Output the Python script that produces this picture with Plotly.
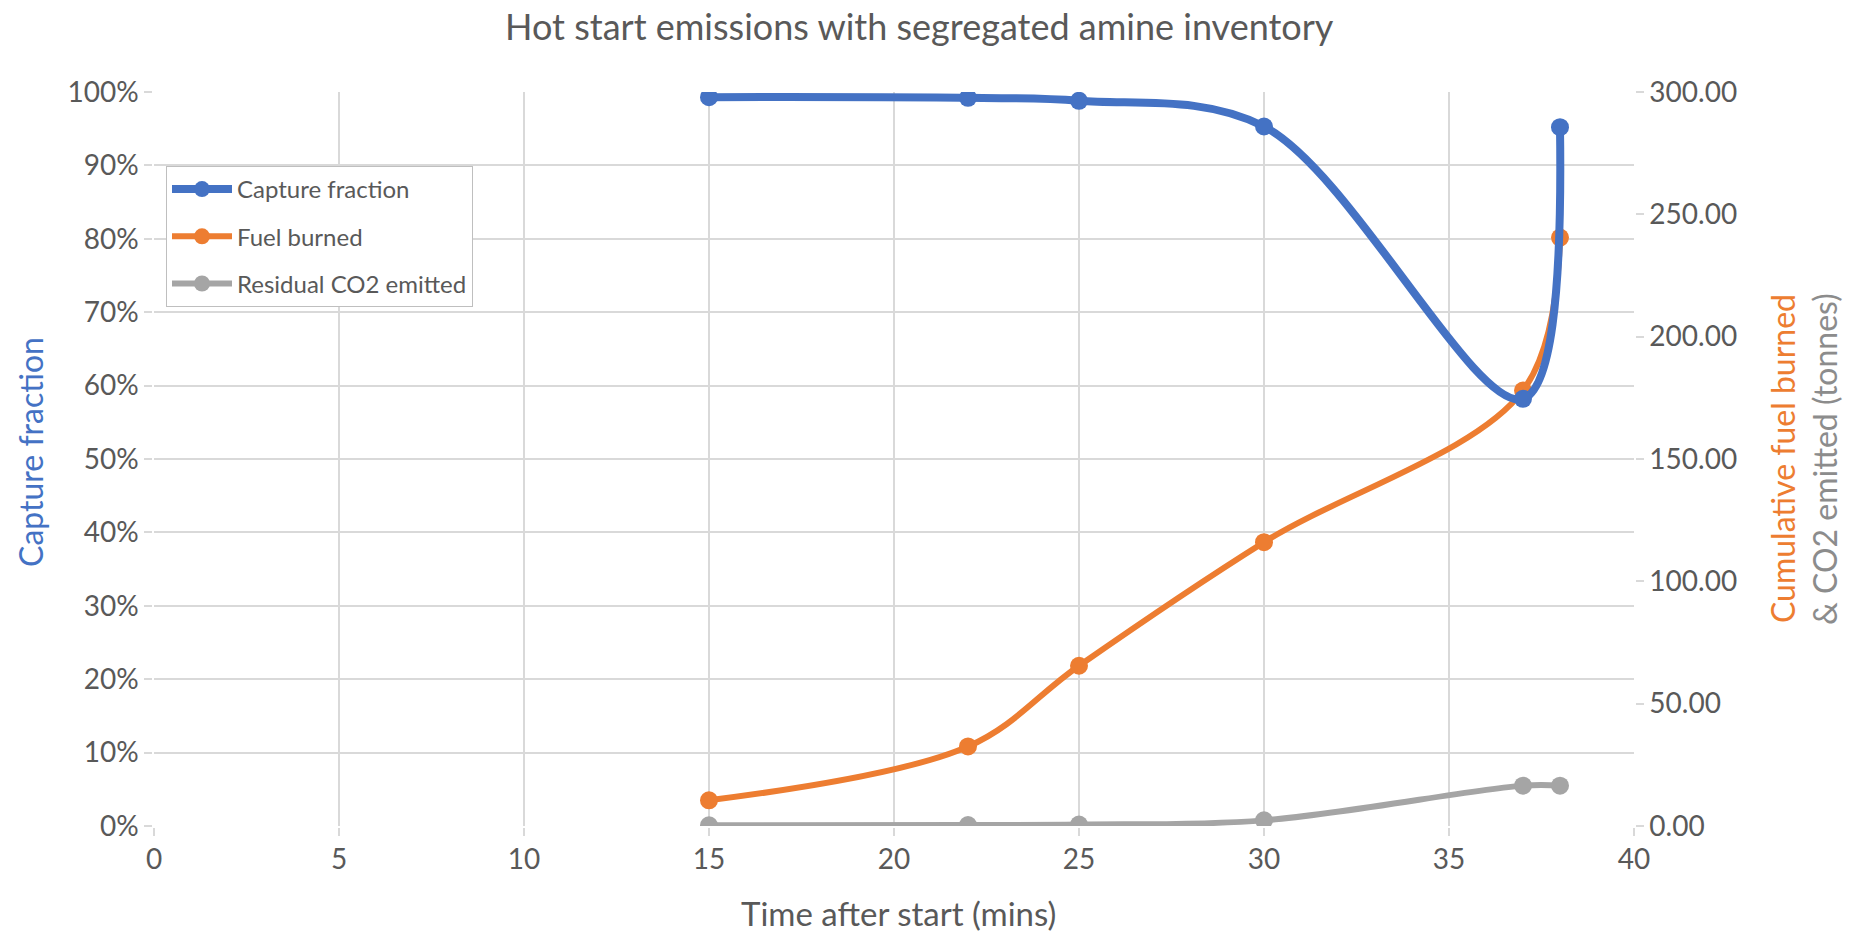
import plotly.graph_objects as go

time_min = [15, 22, 25, 30, 37, 38]
capture_fraction = [0.993, 0.992, 0.988, 0.953, 0.582, 0.952]
fuel_burned = [10.5, 32.5, 65.5, 116.0, 178.0, 240.5]
residual_co2 = [0.3, 0.4, 0.6, 2.3, 16.5, 16.5]

x_ticks = [0, 5, 10, 15, 20, 25, 30, 35, 40]

BLUE = "#4472C4"
ORANGE = "#ED7D31"
GRAY = "#A5A5A5"
TXT = "#595959"
GRID = "#D9D9D9"
FONT = "Lato, Open Sans, sans-serif"

W, H = 1857, 934
L, R, T, B = 154, 223, 92, 108
pw = W - L - R
ph = H - T - B

def px(x):
    return (x - L) / pw

def py(y):
    return (H - B - y) / ph

fig = go.Figure()
fig.add_trace(go.Scatter(
    x=time_min, y=capture_fraction, name="Capture fraction",
    mode="lines+markers", line=dict(color=BLUE, width=8, shape="spline", smoothing=1),
    marker=dict(color=BLUE, size=18), legendgroup="a", yaxis="y", zorder=3))
fig.add_trace(go.Scatter(
    x=time_min, y=fuel_burned, name="Fuel burned",
    mode="lines+markers", line=dict(color=ORANGE, width=6, shape="spline", smoothing=1),
    marker=dict(color=ORANGE, size=18), legendgroup="b", yaxis="y2", zorder=2))
fig.add_trace(go.Scatter(
    x=time_min, y=residual_co2, name="Residual CO2 emitted",
    mode="lines+markers", line=dict(color=GRAY, width=6, shape="spline", smoothing=1),
    marker=dict(color=GRAY, size=18), legendgroup="c", yaxis="y2", zorder=1))

fig.update_layout(
    width=W, height=H,
    margin=dict(l=L, r=R, t=T, b=B),
    paper_bgcolor="white", plot_bgcolor="white",
    font=dict(family=FONT, color=TXT, size=28),
    showlegend=True,
    legend=dict(
        x=px(166), y=py(166), xanchor="left", yanchor="top",
        bgcolor="white", bordercolor="#BFBFBF", borderwidth=1,
        font=dict(size=24, color=TXT), tracegroupgap=13,
        traceorder="grouped", itemwidth=60,
    ),
    xaxis=dict(
        range=[0, 40], tickvals=x_ticks, showgrid=True, gridcolor=GRID, gridwidth=1.5,
        zeroline=False, showline=True, linecolor=GRID, linewidth=1.5,
        ticks="outside", ticklen=8, tickcolor=GRID, tickwidth=1.5,
        tickfont=dict(size=28, color=TXT),
    ),
    yaxis=dict(
        range=[0, 1], dtick=0.1, tickformat=".0%", showgrid=True, gridcolor=GRID, gridwidth=1.5,
        zeroline=False, showline=True, linecolor=GRID, linewidth=1.5,
        ticks="outside", ticklen=8, tickcolor=GRID, tickwidth=1.5,
        tickfont=dict(size=28, color=TXT),
    ),
    yaxis2=dict(
        range=[0, 300], dtick=50, tickformat=".2f", overlaying="y", side="right",
        showgrid=False, zeroline=False, showline=True, linecolor=GRID, linewidth=1.5,
        ticks="outside", ticklen=8, tickcolor=GRID, tickwidth=1.5,
        tickfont=dict(size=28, color=TXT),
    ),
    annotations=[
        dict(text="Hot start emissions with segregated amine inventory",
             x=px(919), y=py(26), xref="paper", yref="paper", showarrow=False,
             xanchor="center", yanchor="middle", font=dict(size=36, color=TXT)),
        dict(text="Time after start (mins)",
             x=px(898), y=py(913), xref="paper", yref="paper", showarrow=False,
             xanchor="center", yanchor="middle", font=dict(size=33, color=TXT)),
        dict(text="Capture fraction", textangle=-90,
             x=px(30), y=py(452), xref="paper", yref="paper", showarrow=False,
             xanchor="center", yanchor="middle", font=dict(size=32, color=BLUE)),
        dict(text="Cumulative fuel burned", textangle=-90,
             x=px(1782), y=py(459), xref="paper", yref="paper", showarrow=False,
             xanchor="center", yanchor="middle", font=dict(size=32, color=ORANGE)),
        dict(text="& CO2 emitted (tonnes)", textangle=-90,
             x=px(1824), y=py(459), xref="paper", yref="paper", showarrow=False,
             xanchor="center", yanchor="middle", font=dict(size=32, color="#8C8C8C")),
    ],
)

fig.write_html("out.html")
